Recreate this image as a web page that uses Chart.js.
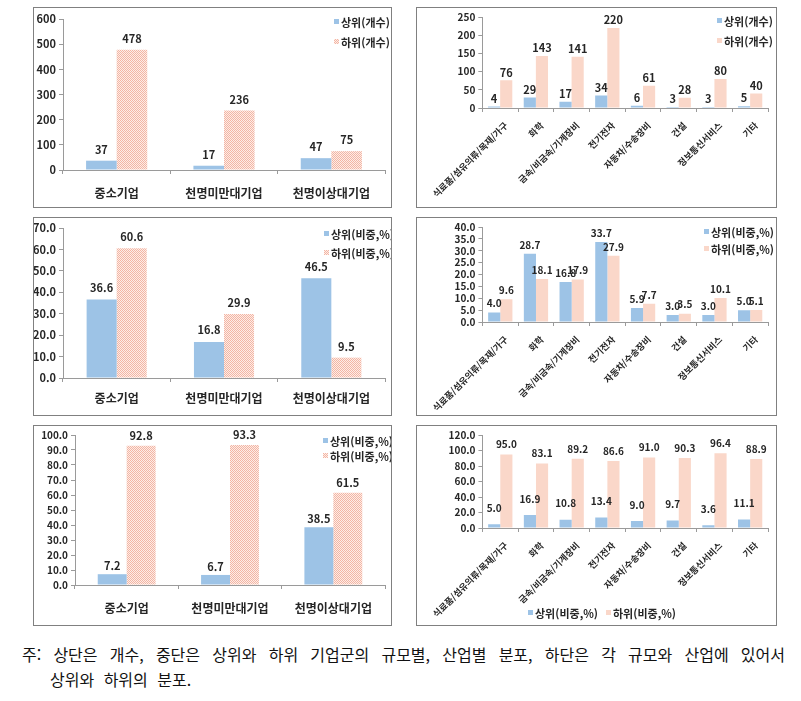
<!DOCTYPE html>
<html lang="ko">
<head>
<meta charset="utf-8">
<script src="https://cdn.jsdelivr.net/npm/chart.js@4.4.1/dist/chart.umd.min.js"></script>
<style>
  body { margin: 0; width: 801px; height: 701px; background: #fff; position: relative; overflow: hidden;
         font-family: 'Noto Sans CJK KR', sans-serif; }
  .panel { position: absolute; border: 1px solid #808080; background: #fff; }
  .panel canvas { display: block; }
  .note { position: absolute; left: 22px; top: 642px; width: 763px; font-size: 16px; line-height: 25px; color: #111; }
  .note .l1 { text-align: justify; text-align-last: justify; word-spacing: 3px; }
  .note .l2 { padding-left: 28px; word-spacing: 5px; }
</style>
</head>
<body>
<div class="panel" style="left:33px;top:7px;"><canvas id="c1" width="357" height="199"></canvas></div>
<div class="panel" style="left:416px;top:7px;"><canvas id="c2" width="359" height="199"></canvas></div>
<div class="panel" style="left:33px;top:217px;"><canvas id="c3" width="357" height="197"></canvas></div>
<div class="panel" style="left:416px;top:217px;"><canvas id="c4" width="359" height="197"></canvas></div>
<div class="panel" style="left:33px;top:425px;"><canvas id="c5" width="357" height="199"></canvas></div>
<div class="panel" style="left:416px;top:425px;"><canvas id="c6" width="359" height="199"></canvas></div>
<div class="note">
  <div class="l1">주: 상단은 개수, 중단은 상위와 하위 기업군의 규모별, 산업별 분포, 하단은 각 규모와 산업에 있어서</div>
  <div class="l2">상위와 하위의 분포.</div>
</div>
<script>
// ---- data ----
const sizeCats = ['중소기업', '천명미만대기업', '천명이상대기업'];
const industryCats = ['식료품/섬유의류/목재/가구', '화학', '금속/비금속/기계장비', '전기전자',
  '자동차/수송장비', '건설', '정보통신서비스', '기타'];

const countNames = ['상위(개수)', '하위(개수)'];
const shareNames = ['상위(비중,%)', '하위(비중,%)'];

// top row: counts
const sizeTopCount = [37, 17, 47];
const sizeBottomCount = [478, 236, 75];
const indTopCount = [4, 29, 17, 34, 6, 3, 3, 5];
const indBottomCount = [76, 143, 141, 220, 61, 28, 80, 40];

// middle row: share of each group by size / industry
const sizeTopShare = [36.6, 16.8, 46.5];
const sizeBottomShare = [60.6, 29.9, 9.5];
const indTopShare = [4.0, 28.7, 16.8, 33.7, 5.9, 3.0, 3.0, 5.0];
const indBottomShare = [9.6, 18.1, 17.9, 27.9, 7.7, 3.5, 10.1, 5.1];

// bottom row: split within each size / industry
const sizeTopWithin = [7.2, 6.7, 38.5];
const sizeBottomWithin = [92.8, 93.3, 61.5];
const indTopWithin = [5.0, 16.9, 10.8, 13.4, 9.0, 9.7, 3.6, 11.1];
const indBottomWithin = [95.0, 83.1, 89.2, 86.6, 91.0, 90.3, 96.4, 88.9];

// ---- styles ----
const FONT = "'Noto Sans CJK KR', sans-serif";
const BLUE = '#9DC3E6';
const PEACH = '#FAD7C9';
const AXIS = '#9a9a9a';
const TEXT = '#262626';
Chart.defaults.font.family = FONT;

function checkerPattern(ctx) {
  const c = document.createElement('canvas');
  c.width = 2; c.height = 2;
  const g = c.getContext('2d');
  g.fillStyle = '#FDEDE7';
  g.fillRect(0, 0, 2, 2);
  g.fillStyle = '#F3B5A4';
  g.fillRect(0, 0, 1, 1);
  g.fillRect(1, 1, 1, 1);
  return ctx.createPattern(c, 'repeat');
}

// numbers above the bars
const valueLabels = {
  id: 'valueLabels',
  afterDatasetsDraw(chart, args, opts) {
    const { ctx } = chart;
    ctx.save();
    ctx.font = `bold ${opts.size}px ${FONT}`;
    ctx.fillStyle = TEXT;
    ctx.textAlign = 'center';
    ctx.textBaseline = 'middle';
    chart.data.datasets.forEach((ds, i) => {
      chart.getDatasetMeta(i).data.forEach((bar, j) => {
        ctx.fillText(ds.data[j].toFixed(opts.dec), bar.x, bar.y - opts.gap[i]);
      });
    });
    ctx.restore();
  },
};

// Excel-like legend drawn inside the panel
const panelLegend = {
  id: 'panelLegend',
  afterDraw(chart, args, opts) {
    const { ctx } = chart;
    ctx.save();
    ctx.font = `bold ${opts.size}px ${FONT}`;
    ctx.textBaseline = 'middle';
    ctx.textAlign = 'left';
    chart.data.datasets.forEach((ds, i) => {
      const x = opts.x + (opts.dx ? opts.dx * i : 0);
      const y = opts.y + (opts.dy ? opts.dy * i : 0);
      ctx.fillStyle = ds.backgroundColor;
      ctx.fillRect(x, y - 4, 5, 5);
      ctx.fillStyle = TEXT;
      ctx.fillText(ds.label, x + 7, y);
    });
    ctx.restore();
  },
};

function makeChart(id, cfg) {
  const canvas = document.getElementById(id);
  const ctx = canvas.getContext('2d');
  const h = canvas.height;
  return new Chart(ctx, {
    type: 'bar',
    data: {
      labels: cfg.labels,
      datasets: [
        { label: cfg.names[0], data: cfg.top, backgroundColor: BLUE },
        { label: cfg.names[1], data: cfg.bottom, backgroundColor: cfg.hatched ? checkerPattern(ctx) : PEACH },
      ],
    },
    options: {
      responsive: false,
      animation: false,
      events: [],
      layout: { padding: { top: cfg.top0, right: cfg.right, left: 0, bottom: 0 } },
      datasets: { bar: { categoryPercentage: cfg.catPct, barPercentage: 1 } },
      plugins: {
        legend: { display: false },
        tooltip: { enabled: false },
        valueLabels: { size: cfg.valSize, dec: cfg.dec, gap: cfg.gap },
        panelLegend: cfg.legend,
      },
      scales: {
        x: {
          grid: { drawOnChartArea: false, tickLength: 4, color: AXIS },
          border: { color: AXIS },
          ticks: {
            autoSkip: false,
            maxRotation: cfg.rot, minRotation: cfg.rot,
            padding: cfg.xPad,
            labelOffset: cfg.rot ? 6 : 0,
            color: TEXT,
            font: { size: cfg.xSize, weight: 'bold' },
          },
          afterFit(scale) { scale.height = h - cfg.bottom0; },
        },
        y: {
          min: 0,
          max: cfg.max,
          grid: { drawOnChartArea: false, tickLength: 4, color: AXIS },
          border: { color: AXIS },
          ticks: {
            autoSkip: false,
            stepSize: cfg.step,
            padding: 3,
            color: TEXT,
            font: { size: cfg.ySize, weight: 'bold' },
            callback: v => v.toFixed(cfg.dec),
          },
          afterFit(scale) { scale.width = cfg.left0; },
        },
      },
    },
    plugins: [valueLabels, panelLegend],
  });
}

makeChart('c1', {
  labels: sizeCats, names: countNames, top: sizeTopCount, bottom: sizeBottomCount, hatched: true,
  max: 600, step: 100, dec: 0, catPct: 0.57, rot: 0, xPad: 12, xSize: 12, ySize: 11,
  top0: 11, right: 6, left0: 29, bottom0: 162,
  valSize: 11, gap: [11, 11],
  legend: { x: 300, y: 15, dy: 20, size: 11 },
});

makeChart('c2', {
  labels: industryCats, names: countNames, top: indTopCount, bottom: indBottomCount, hatched: false,
  max: 250, step: 50, dec: 0, catPct: 0.68, rot: 45, xPad: 8, xSize: 9, ySize: 10,
  top0: 9, right: 8, left0: 53, bottom0: 100,
  valSize: 11, gap: [8, 8],
  legend: { x: 300, y: 14, dy: 20, size: 11 },
});

makeChart('c3', {
  labels: sizeCats, names: shareNames, top: sizeTopShare, bottom: sizeBottomShare, hatched: true,
  max: 70, step: 10, dec: 1, catPct: 0.56, rot: 0, xPad: 9, xSize: 12, ySize: 11,
  top0: 10, right: 6, left0: 29, bottom0: 160,
  valSize: 11, gap: [12, 11],
  legend: { x: 290, y: 17, dy: 19, size: 11 },
});

makeChart('c4', {
  labels: industryCats, names: shareNames, top: indTopShare, bottom: indBottomShare, hatched: false,
  max: 40, step: 5, dec: 1, catPct: 0.68, rot: 45, xPad: 8, xSize: 9, ySize: 10,
  top0: 9, right: 8, left0: 55, bottom0: 104,
  valSize: 10, gap: [9, 9],
  legend: { x: 287, y: 15, dy: 17, size: 11 },
});

makeChart('c5', {
  labels: sizeCats, names: shareNames, top: sizeTopWithin, bottom: sizeBottomWithin, hatched: true,
  max: 100, step: 10, dec: 1, catPct: 0.56, rot: 0, xPad: 12, xSize: 12, ySize: 10,
  top0: 9, right: 6, left0: 41, bottom0: 159,
  valSize: 11, gap: [8, 10],
  legend: { x: 289, y: 16, dy: 15, size: 11 },
});

makeChart('c6', {
  labels: industryCats, names: shareNames, top: indTopWithin, bottom: indBottomWithin, hatched: false,
  max: 120, step: 20, dec: 1, catPct: 0.68, rot: 45, xPad: 8, xSize: 9, ySize: 10,
  top0: 9, right: 8, left0: 55, bottom0: 102,
  valSize: 10, gap: [16, 10],
  legend: { x: 111, y: 188, dx: 78, size: 11 },
});
</script>
</body>
</html>
